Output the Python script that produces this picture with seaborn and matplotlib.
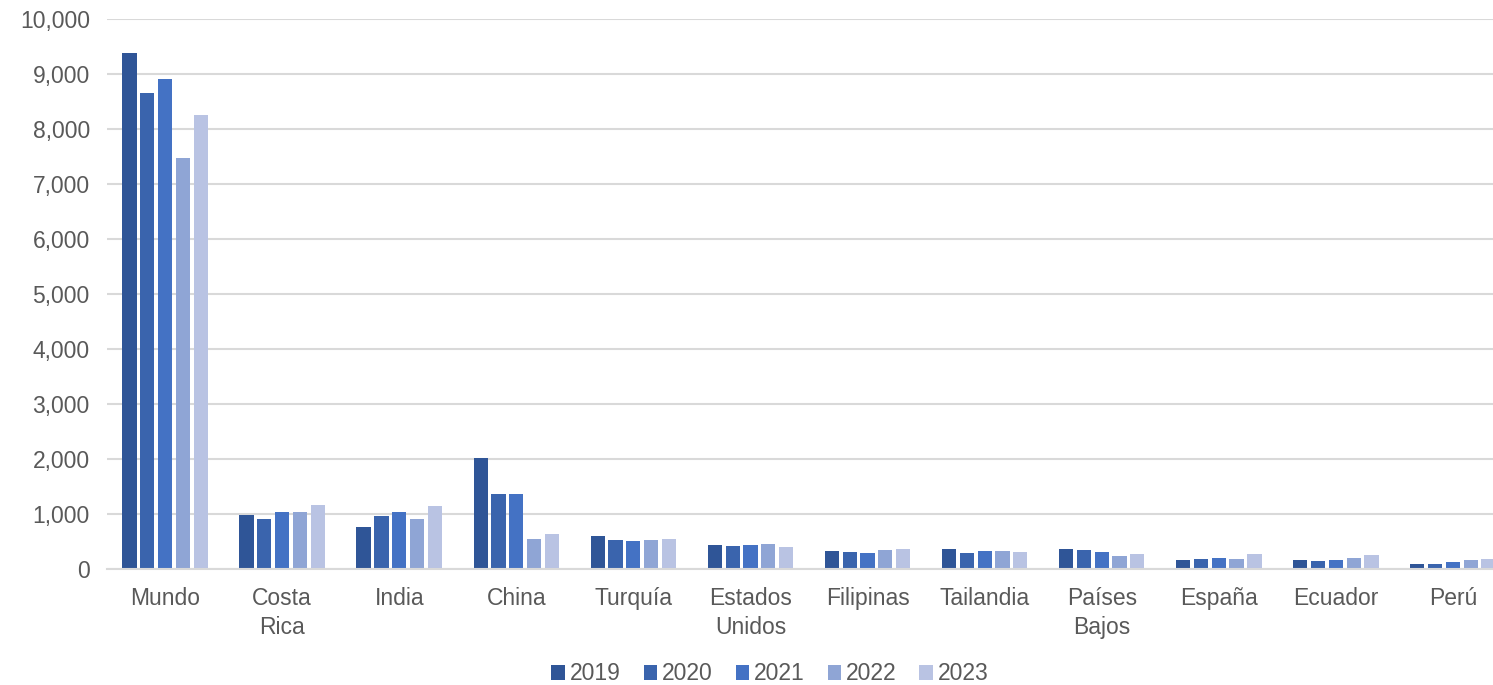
import matplotlib.pyplot as plt
import matplotlib.ticker as mticker
import seaborn as sns
import pandas as pd

# Datos
paises = ['Mundo', 'Costa\nRica', 'India', 'China', 'Turquía', 'Estados\nUnidos',
          'Filipinas', 'Tailandia', 'Países\nBajos', 'España', 'Ecuador', 'Perú']
anios = ['2019', '2020', '2021', '2022', '2023']

v2019 = [9380, 975, 757, 2020, 595, 430, 320, 370, 370, 170, 170, 100]
v2020 = [8655, 915, 965, 1357, 535, 410, 310, 295, 345, 175, 145, 100]
v2021 = [8910, 1040, 1040, 1360, 510, 435, 285, 320, 315, 200, 160, 125]
v2022 = [7470, 1030, 910, 550, 520, 450, 350, 320, 230, 175, 200, 160]
v2023 = [8255, 1170, 1150, 630, 550, 405, 370, 305, 265, 265, 255, 185]

colores = ['#2F5597', '#3A64AD', '#4472C4', '#8FA5D5', '#B9C3E3']

series = [v2019, v2020, v2021, v2022, v2023]
df = pd.DataFrame([
    {'País': p, 'Año': a, 'Valor': v}
    for a, vals in zip(anios, series)
    for p, v in zip(paises, vals)
])

sns.set_theme(style='white')
plt.rcParams['font.family'] = ['Liberation Sans', 'DejaVu Sans']

fig = plt.figure(figsize=(14.93, 6.85), dpi=100)
ax = fig.add_axes([106.5 / 1493, 116 / 685, (1511.5 - 106.5) / 1493, 550 / 685])

sns.barplot(data=df, x='País', y='Valor', hue='Año', palette=colores,
            width=0.76, gap=0.2, ax=ax, linewidth=0, saturation=1)

ax.set_ylim(0, 10000)
ax.set_yticks(range(0, 10001, 1000))
ax.yaxis.set_major_formatter(mticker.FuncFormatter(lambda x, _: f'{int(x):,}'))
ax.grid(axis='y', color='#D9D9D9', linewidth=1.5)
ax.set_axisbelow(True)
ax.set_xlabel('')
ax.set_ylabel('')
for s in ['top', 'right', 'left']:
    ax.spines[s].set_visible(False)
ax.spines['bottom'].set_color('#D9D9D9')
ax.spines['bottom'].set_linewidth(1.5)
ax.tick_params(axis='both', length=0, labelsize=16.5, labelcolor='#595959')
ax.tick_params(axis='x', pad=13)
ax.tick_params(axis='y', pad=12)
for t in ax.get_xticklabels():
    t.set_linespacing(1.35)

ax.legend(loc='center', bbox_to_anchor=(770 / 1493, 11 / 685),
          bbox_transform=fig.transFigure, ncol=5, frameon=False,
          fontsize=16.5, labelcolor='#595959', handlelength=0.6,
          handleheight=0.6, handletextpad=0.2, columnspacing=1.0)

fig.savefig('out.png', dpi=100)
